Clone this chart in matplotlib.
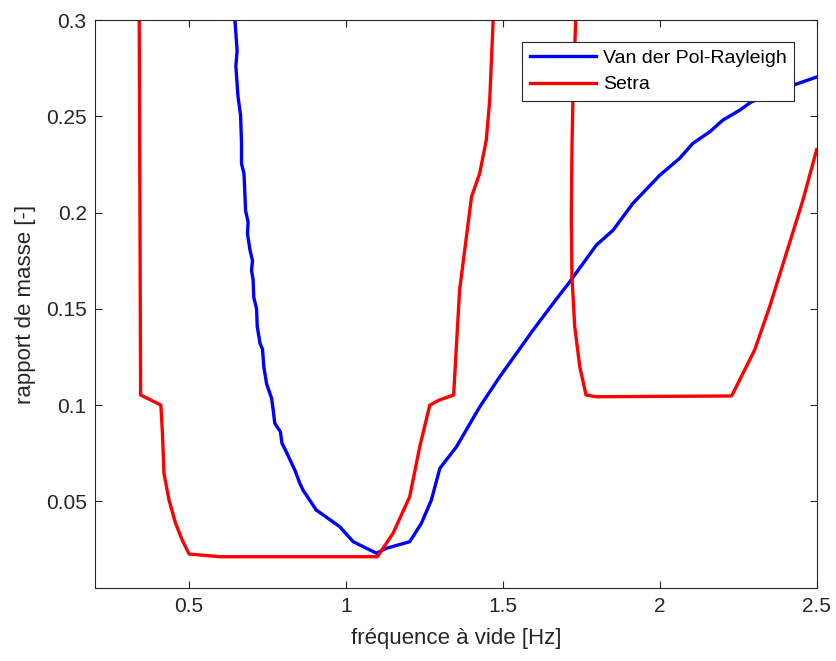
import numpy as np
import matplotlib
matplotlib.use("Agg")
import matplotlib.pyplot as plt

# Van der Pol-Rayleigh curve
vdp_f = [0.646, 0.653, 0.649, 0.656, 0.664, 0.667, 0.667, 0.675, 0.680, 0.688,
         0.686, 0.694, 0.702, 0.699, 0.704, 0.706, 0.715, 0.717, 0.726, 0.734,
         0.738, 0.747, 0.763, 0.768, 0.773, 0.791, 0.796, 0.807, 0.837, 0.853,
         0.863, 0.905, 0.980, 1.023, 1.097, 1.129, 1.203, 1.240, 1.272, 1.299,
         1.352, 1.426, 1.490, 1.596, 1.660, 1.713, 1.798, 1.851, 1.914, 2.000,
         2.063, 2.105, 2.159, 2.201, 2.254, 2.291, 2.424, 2.500]
vdp_mu = [0.300, 0.284, 0.276, 0.260, 0.2505, 0.236, 0.2255, 0.220, 0.201, 0.195,
          0.189, 0.1805, 0.175, 0.170, 0.165, 0.156, 0.150, 0.141, 0.132, 0.129,
          0.120, 0.111, 0.1034, 0.0974, 0.0905, 0.0861, 0.0801, 0.0766, 0.0662, 0.0593,
          0.0558, 0.0455, 0.0368, 0.0290, 0.0230, 0.0256, 0.0290, 0.0385, 0.0506, 0.0671,
          0.0783, 0.0990, 0.1147, 0.1389, 0.1528, 0.1640, 0.1831, 0.1908, 0.2047, 0.2194,
          0.2281, 0.2359, 0.2419, 0.2480, 0.2531, 0.2574, 0.2661, 0.2704]

# Setra curve (NaN = leaves the window above 0.3)
setra_f = [0.341, 0.3455, 0.410, 0.415, 0.420, 0.436, 0.457, 0.478, 0.500, 0.598,
           1.100, 1.150, 1.203, 1.235, 1.267, 1.296, 1.343, 1.362, 1.400, 1.426,
           1.447, 1.458, 1.469, np.nan,
           1.732, 1.723, 1.720, 1.718, 1.720, 1.729, 1.745, 1.765, 1.798, 2.228,
           2.233, 2.302, 2.350, 2.413, 2.456, 2.500]
setra_mu = [0.300, 0.1052, 0.1000, 0.0853, 0.0645, 0.0506, 0.0385, 0.0299, 0.0226, 0.0212,
            0.0212, 0.0334, 0.0524, 0.0783, 0.0999, 0.1025, 0.1052, 0.1597, 0.2081, 0.2203,
            0.2376, 0.2583, 0.300, np.nan,
            0.300, 0.258, 0.2324, 0.1978, 0.1666, 0.1406, 0.1199, 0.1052, 0.1043, 0.1047,
            0.1060, 0.1285, 0.1510, 0.1839, 0.2064, 0.2327]

xticks = [0.5, 1, 1.5, 2, 2.5]
xtick_labels = ["0.5", "1", "1.5", "2", "2.5"]
yticks = [0.05, 0.1, 0.15, 0.2, 0.25, 0.3]
ytick_labels = ["0.05", "0.1", "0.15", "0.2", "0.25", "0.3"]

plt.rcParams['font.family'] = ['Liberation Sans', 'DejaVu Sans']
dark = '#262626'

fig = plt.figure(figsize=(8.36, 6.61), dpi=100)
ax = fig.add_axes([0.1136, 0.110, 0.8633, 0.8597])

ax.plot(vdp_f, vdp_mu, color='#0000ff', linewidth=2.4, label='Van der Pol-Rayleigh')
ax.plot(setra_f, setra_mu, color='#ff0000', linewidth=2.4, label='Setra')

ax.set_xlim(0.2, 2.5)
ax.set_ylim(0.0048, 0.3)
ax.set_xticks(xticks)
ax.set_xticklabels(xtick_labels)
ax.set_yticks(yticks)
ax.set_yticklabels(ytick_labels)
ax.tick_params(direction='in', length=5, width=0.8, colors=dark, labelsize=15,
               top=True, right=True, pad=6)
for s in ax.spines.values():
    s.set_color(dark)
    s.set_linewidth(0.8)

ax.set_xlabel('fréquence à vide [Hz]', fontsize=16, color=dark, labelpad=9)
ax.set_ylabel('rapport de masse [-]', fontsize=16, color=dark, labelpad=7)

leg = ax.legend(loc='upper right', bbox_to_anchor=(0.969, 0.962), borderaxespad=0,
                fontsize=14, handlelength=3.4, handletextpad=0.35, labelspacing=0.45,
                fancybox=False, framealpha=1, edgecolor=dark, borderpad=0.4)
leg.get_frame().set_linewidth(0.8)

fig.savefig('out.png', dpi=100)
plt.close(fig)
